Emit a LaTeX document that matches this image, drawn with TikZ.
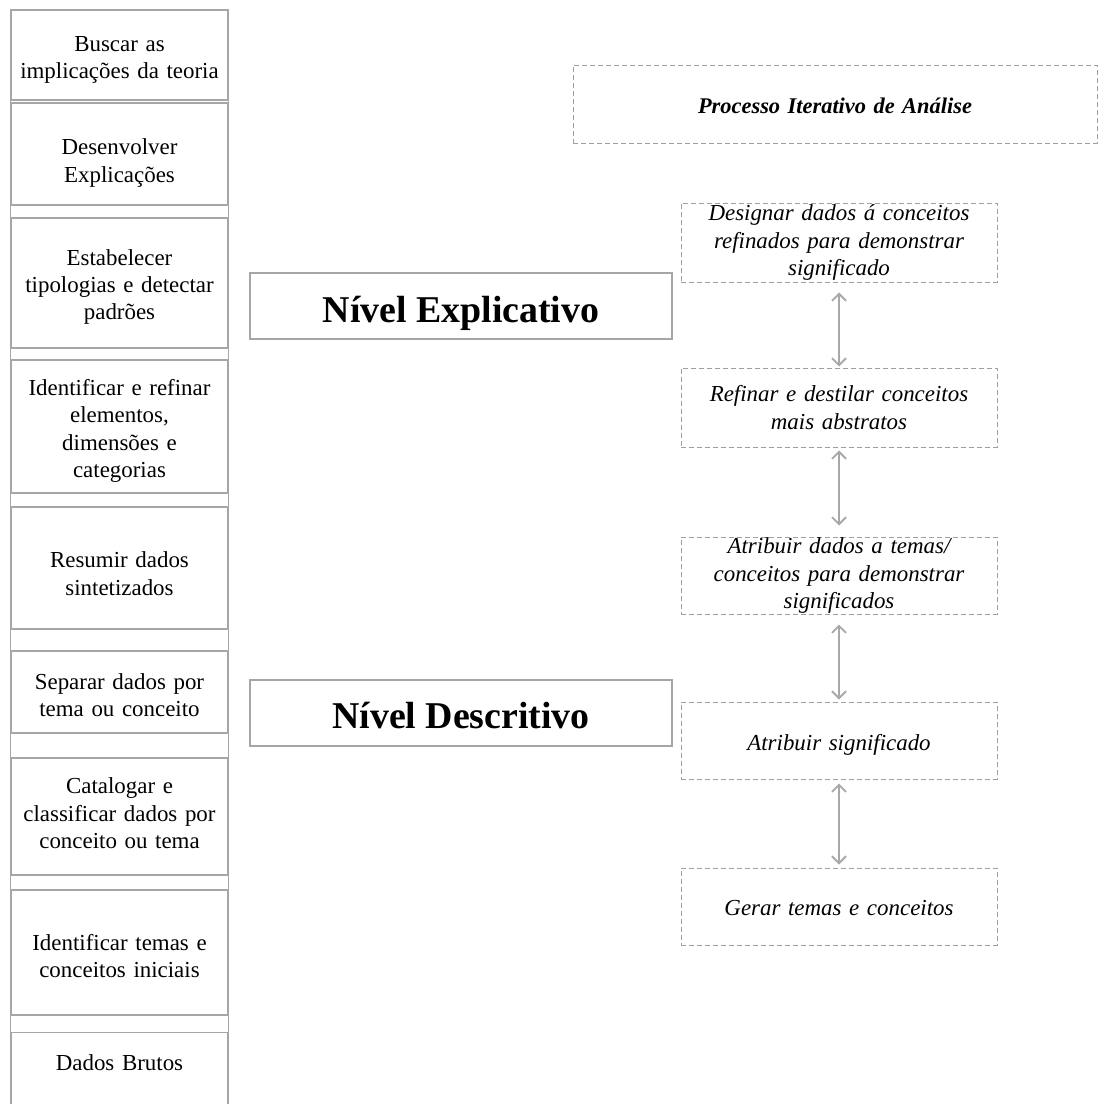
\documentclass[tikz,border=0pt]{standalone}
\usepackage{fontspec}
\setmainfont{Liberation Serif}
\usetikzlibrary{arrows.meta}
\definecolor{lgray}{HTML}{A6A6A6}
\definecolor{dgray}{HTML}{A0A0A0}
\definecolor{agray}{HTML}{A8A8A8}
\begin{document}
\begin{tikzpicture}[x=1bp,y=-1bp,
  colbox/.style={draw=lgray, line width=1.3bp, minimum width=217bp, inner sep=0pt},
  coltext/.style={text width=210bp, align=center, inner sep=0pt, font=\fontsize{23}{27.5}\selectfont},
  dbox/.style={draw=dgray, dash pattern=on 5bp off 3bp, line width=1bp, fill=white,
    minimum width=316bp, minimum height=78bp, text width=310bp, align=center, inner sep=0pt,
    font=\itshape\fontsize{23}{28}\selectfont},
  lvl/.style={draw=lgray, line width=1.3bp, minimum width=422bp, minimum height=66bp,
    inner sep=0pt, font=\bfseries\fontsize{38}{44}\selectfont},
  link/.style={agray, line width=1.9bp, {Straight Barb[length=7bp,width=14bp]}-{Straight Barb[length=7bp,width=14bp]}},
  strip/.style={draw=lgray, line width=1.3bp}]
\useasboundingbox (0,0) rectangle (1099,1104);
\clip (0,0) rectangle (1099,1104);
\fill[white] (0,0) rectangle (1099,1104);

% left column boxes
\node[colbox, minimum height=90bp]  (b1) at (119.5,55)    {};
\node[colbox, minimum height=102bp] (b2) at (119.5,154)   {};
\node[colbox, minimum height=130bp] (b3) at (119.5,283)   {};
\node[colbox, minimum height=133bp] (b4) at (119.5,426.5) {};
\node[colbox, minimum height=122bp] (b5) at (119.5,568)   {};
\node[colbox, minimum height=82bp]  (b6) at (119.5,692)   {};
\node[colbox, minimum height=117bp] (b7) at (119.5,816.5) {};
\node[colbox, minimum height=125bp] (b8) at (119.5,952.5) {};
\node[colbox, minimum height=100bp, anchor=north] (b9) at (119.5,1032) {};

\foreach \a/\b in {b1/b2,b2/b3,b3/b4,b4/b5,b5/b6,b6/b7,b7/b8,b8/b9}{
  \draw[strip] (\a.south west) -- (\b.north west);
  \draw[strip] (\a.south east) -- (\b.north east);
}

% left column texts
\node[coltext] (l1) at (119.5,60)    {Buscar as\\implicações da teoria};
\node[coltext] (l2) at (119.5,163)   {Desenvolver\\Explicações};
\node[coltext] (l3) at (119.5,287)   {Estabelecer\\tipologias e detectar\\padrões};
\node[coltext] (l4) at (119.5,431)   {Identificar e refinar\\elementos,\\dimensões e\\categorias};
\node[coltext] (l5) at (119.5,573.5) {Resumir dados\\sintetizados};
\node[coltext] (l6) at (119.5,695)   {Separar dados por\\tema ou conceito};
\node[coltext] (l7) at (119.5,813.5) {Catalogar e\\classificar dados por\\conceito ou tema};
\node[coltext] (l8) at (119.5,956)   {Identificar temas e\\conceitos iniciais};
\node[coltext] (l9) at (119.5,1063)  {Dados Brutos};

% level boxes
\node[lvl, text height=36bp, text depth=4bp] (e) at (461,306) {Nível Explicativo};
\node[lvl, text height=35bp, text depth=5bp] (d) at (461,713) {Nível Descritivo};

% right column
\node[dbox, minimum width=524bp, text width=500bp, text height=20bp, text depth=1bp,
  font=\bfseries\itshape\fontsize{22.5}{27}\selectfont] (t) at (835,104) {Processo Iterativo de Análise};
\node[dbox, minimum height=79bp] (r1) at (839,242.5) {Designar dados á conceitos\\refinados para demonstrar\\significado};
\node[dbox, minimum height=79bp] (r2) at (839,407.5) {Refinar e destilar conceitos\\mais abstratos};
\node[dbox, minimum height=77bp] (r3) at (839,575.5) {Atribuir dados a temas/\\conceitos para demonstrar\\significados};
\node[dbox, minimum height=77bp, text height=20bp, text depth=1bp] (r4) at (839,740.5) {Atribuir significado};
\node[dbox, minimum height=77bp, text height=19bp, text depth=1bp] (r5) at (839,906.5) {Gerar temas e conceitos};

\draw[link, shorten <=10bp, shorten >=1bp] (r1.south) -- (r2.north);
\draw[link, shorten <=3bp, shorten >=11bp] (r2.south) -- (r3.north);
\draw[link, shorten <=10bp, shorten >=2bp] (r3.south) -- (r4.north);
\draw[link, shorten <=4bp, shorten >=3bp] (r4.south) -- (r5.north);
\end{tikzpicture}
\end{document}
